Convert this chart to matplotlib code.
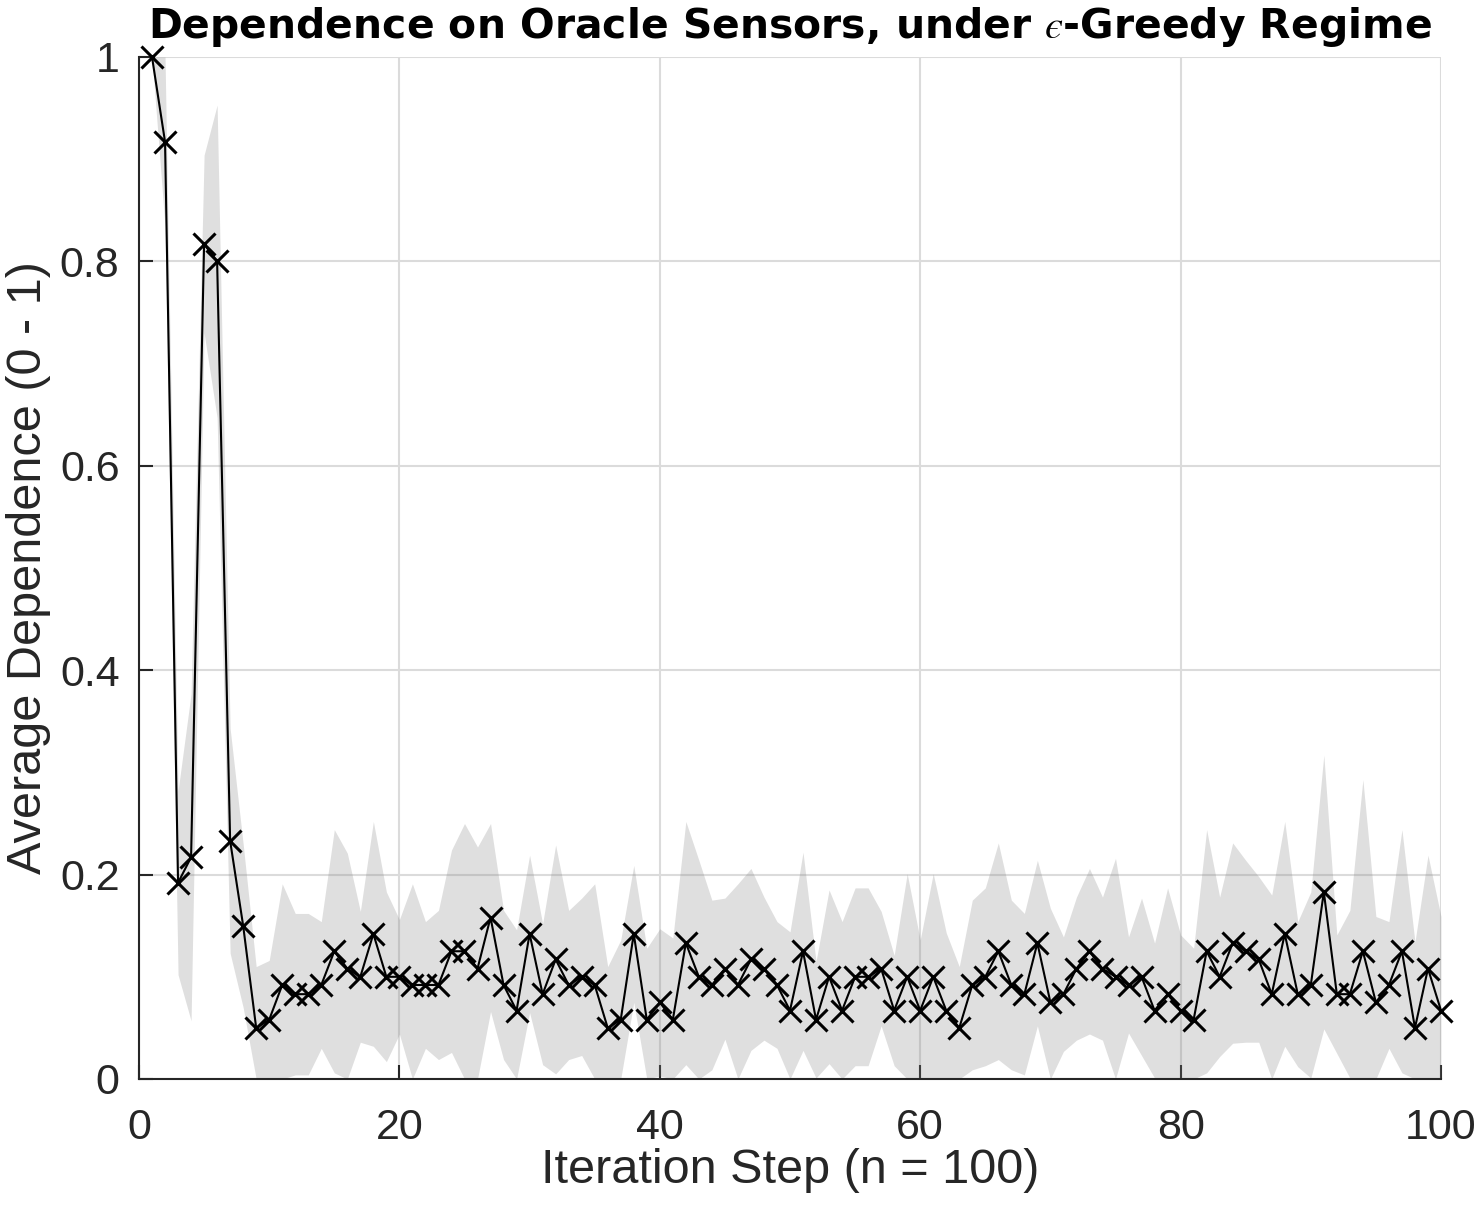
import numpy as np
import matplotlib
matplotlib.use("Agg")
import matplotlib.pyplot as plt

plt.rcParams['font.family'] = ['Liberation Sans', 'DejaVu Sans']
plt.rcParams['mathtext.fontset'] = 'stix'

iterations = list(range(1, 101))

mean_dependence = [
    1.000, 0.917, 0.192, 0.217, 0.817, 0.800, 0.233, 0.150, 0.050, 0.058,
    0.092, 0.083, 0.083, 0.092, 0.125, 0.108, 0.100, 0.142, 0.100, 0.100,
    0.092, 0.092, 0.092, 0.125, 0.125, 0.108, 0.158, 0.092, 0.067, 0.142,
    0.083, 0.117, 0.092, 0.100, 0.092, 0.050, 0.058, 0.142, 0.058, 0.075,
    0.058, 0.133, 0.100, 0.092, 0.108, 0.092, 0.117, 0.108, 0.092, 0.067,
    0.125, 0.058, 0.100, 0.067, 0.100, 0.100, 0.108, 0.067, 0.100, 0.067,
    0.100, 0.067, 0.050, 0.092, 0.100, 0.125, 0.092, 0.083, 0.133, 0.075,
    0.083, 0.108, 0.125, 0.108, 0.100, 0.092, 0.100, 0.067, 0.083, 0.067,
    0.058, 0.125, 0.100, 0.133, 0.125, 0.117, 0.083, 0.142, 0.083, 0.092,
    0.183, 0.083, 0.083, 0.125, 0.075, 0.092, 0.125, 0.050, 0.108, 0.067,
]

std_dependence = [
    0.000, 0.083, 0.090, 0.160, 0.087, 0.153, 0.110, 0.080, 0.060, 0.058,
    0.099, 0.079, 0.079, 0.062, 0.119, 0.113, 0.064, 0.110, 0.083, 0.056,
    0.099, 0.062, 0.073, 0.099, 0.125, 0.119, 0.092, 0.073, 0.079, 0.077,
    0.069, 0.112, 0.073, 0.077, 0.099, 0.060, 0.078, 0.067, 0.070, 0.072,
    0.080, 0.119, 0.114, 0.083, 0.069, 0.099, 0.089, 0.070, 0.062, 0.077,
    0.097, 0.057, 0.085, 0.087, 0.087, 0.087, 0.056, 0.054, 0.101, 0.069,
    0.101, 0.076, 0.060, 0.083, 0.087, 0.106, 0.083, 0.079, 0.081, 0.092,
    0.056, 0.070, 0.081, 0.070, 0.116, 0.047, 0.077, 0.066, 0.104, 0.074,
    0.070, 0.119, 0.078, 0.098, 0.089, 0.081, 0.097, 0.110, 0.071, 0.091,
    0.134, 0.058, 0.082, 0.168, 0.084, 0.062, 0.119, 0.084, 0.111, 0.092,
]

x_ticks = [0, 20, 40, 60, 80, 100]
x_tick_labels = ['0', '20', '40', '60', '80', '100']
y_ticks = [0, 0.2, 0.4, 0.6, 0.8, 1.0]
y_tick_labels = ['0', '0.2', '0.4', '0.6', '0.8', '1']

x = np.array(iterations)
m = np.array(mean_dependence)
s = np.array(std_dependence)
upper = m + s
lower = np.clip(m - s, 0, None)

fig = plt.figure(figsize=(14.75, 12.21), dpi=100)
ax = fig.add_axes([139/1475, 1 - 1079/1221, (1441-139)/1475, (1079-57)/1221])

ax.fill_between(x, lower, upper, color='#808080', alpha=0.25, linewidth=0, zorder=2)
ax.plot(x, m, color='black', linewidth=1.5, marker='x', markersize=16,
        markeredgewidth=2.2, zorder=3, clip_on=False)

ax.set_xlim(0, 100)
ax.set_ylim(0, 1)
ax.set_xticks(x_ticks)
ax.set_xticklabels(x_tick_labels)
ax.set_yticks(y_ticks)
ax.set_yticklabels(y_tick_labels)

ax.grid(True, color='#dbdbdb', linewidth=1.5, zorder=0)
ax.set_axisbelow(True)

for side in ['top', 'right']:
    ax.spines[side].set_visible(False)
for side in ['left', 'bottom']:
    ax.spines[side].set_color('#262626')
    ax.spines[side].set_linewidth(1.5)

ax.tick_params(direction='in', length=10, width=1.5, colors='#262626',
               labelsize=31)
ax.tick_params(axis='x', pad=21)
ax.tick_params(axis='y', pad=14)

ax.set_xlabel('Iteration Step (n = 100)', fontsize=35, color='#262626', labelpad=0)
ax.set_ylabel('Average Dependence (0 - 1)', fontsize=35, color='#262626', labelpad=6)
ax.set_title('Dependence on Oracle Sensors, under $\u03f5$-Greedy Regime',
             fontsize=29.4, fontweight='bold', color='black', pad=14,
             family=['DejaVu Sans'])

fig.savefig('out.png', dpi=100)
